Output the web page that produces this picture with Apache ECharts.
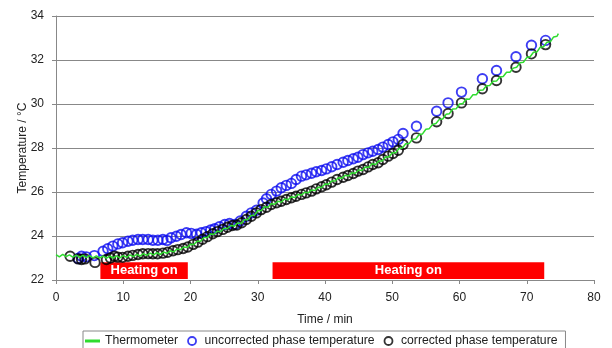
<!DOCTYPE html>
<html>
<head>
<meta charset="utf-8">
<script src="https://cdn.jsdelivr.net/npm/echarts@6/dist/echarts.min.js"></script>
<style>html,body{margin:0;padding:0;background:#fff;}#chart{width:612px;height:348px;}</style>
</head>
<body>
<div id="chart"></div>
<script>
// Thermometer reading: [time (min), temperature (°C)]
var thermometer = [
[0,23.15],[0.5,23.05],[1,23.16],[1.5,23.06],[2,23.14],[2.5,23.04],[3,23.13],[3.5,23.03],[4,23.12],[4.5,23.02],
[5,23.11],[5.5,23.01],[6,23.10],[6.5,23.00],[7,23.09],[7.5,22.99],[8,23.09],[8.5,23.00],[9,23.10],[9.5,23.01],
[10,23.11],[10.5,23.03],[11,23.14],[11.5,23.06],[12,23.17],[12.5,23.09],[13,23.20],[13.5,23.12],[14,23.22],[14.5,23.14],
[15,23.24],[15.5,23.16],[16,23.27],[16.5,23.21],[17,23.33],[17.5,23.28],[18,23.41],[18.5,23.38],[19,23.50],[19.5,23.48],
[20,23.62],[20.5,23.61],[21,23.76],[21.5,23.76],[22,23.93],[22.5,23.93],[23,24.09],[23.5,24.08],[24,24.22],[24.5,24.21],
[25,24.35],[25.5,24.34],[26,24.48],[26.5,24.45],[27,24.59],[27.5,24.57],[28,24.74],[28.5,24.74],[29,24.93],[29.5,24.94],
[30,25.15],[30.5,25.15],[31,25.33],[31.5,25.31],[32,25.47],[32.5,25.44],[33,25.58],[33.5,25.54],[34,25.68],[34.5,25.65],
[35,25.78],[35.5,25.75],[36,25.89],[36.5,25.86],[37,25.99],[37.5,25.96],[38,26.09],[38.5,26.07],[39,26.22],[39.5,26.20],
[40,26.36],[40.5,26.35],[41,26.50],[41.5,26.50],[42,26.65],[42.5,26.62],[43,26.76],[43.5,26.73],[44,26.87],[44.5,26.85],
[45,27.00],[45.5,26.98],[46,27.13],[46.5,27.12],[47,27.28],[47.5,27.25],[48,27.41],[48.5,27.41],[49,27.59],[49.5,27.59],
[50,27.78],[50.5,27.78],[51,27.98],[51.5,28.00],[52,28.19],[52.5,28.20],[53,28.40],[53.5,28.41],[54,28.61],[54.5,28.64],
[55,28.85],[55.5,28.88],[56,29.07],[56.5,29.11],[57,29.30],[57.5,29.32],[58,29.53],[58.5,29.56],[59,29.77],[59.5,29.78],
[60,30.00],[60.5,30.02],[61,30.23],[61.5,30.22],[62,30.42],[62.5,30.42],[63,30.63],[63.5,30.64],[64,30.83],[64.5,30.84],
[65,31.03],[65.5,31.04],[66,31.23],[66.5,31.25],[67,31.44],[67.5,31.44],[68,31.63],[68.5,31.67],[69,31.88],[69.5,31.90],
[70,32.11],[70.5,32.15],[71,32.35],[71.5,32.36],[72,32.58],[72.5,32.60],[73,32.81],[73.5,32.83],[74,33.05],[74.5,33.08],
[74.7,33.20]
];

// Uncorrected phase temperature
var uncorrected = [
[3.3,22.98],[3.8,23.08],[4.5,23.05],[5.7,23.11],[7.0,23.31],[7.7,23.42],[8.45,23.54],[9.2,23.64],[9.9,23.69],[10.7,23.76],
[11.4,23.81],[12.2,23.84],[12.9,23.84],[13.7,23.84],[14.4,23.81],[15.15,23.81],[15.9,23.84],[16.5,23.80],[17.1,23.92],[17.9,23.99],
[18.6,24.07],[19.4,24.15],[20.1,24.12],[20.9,24.08],[21.6,24.15],[22.3,24.20],[23.0,24.27],[23.6,24.33],[24.3,24.42],[25.1,24.52],
[25.8,24.57],[26.6,24.52],[27.4,24.68],[28.3,24.90],[29.05,25.05],[29.8,25.17],[30.8,25.50],[31.3,25.69],[32.0,25.89],[32.8,26.04],
[33.5,26.19],[34.25,26.30],[35.0,26.39],[35.7,26.57],[36.5,26.72],[37.2,26.78],[38.0,26.85],[38.7,26.92],[39.5,26.98],[40.2,27.05],
[41.0,27.15],[41.8,27.25],[42.7,27.35],[43.4,27.43],[44.2,27.51],[44.9,27.58],[45.65,27.70],[46.4,27.78],[47.1,27.85],[47.9,27.93],
[48.6,28.04],[49.4,28.16],[50.1,28.28],[50.9,28.39],[51.6,28.66],[53.6,28.99],[56.6,29.67],[58.3,30.05],[60.3,30.54],[63.4,31.15],
[65.5,31.52],[68.4,32.15],[70.7,32.67],[72.8,32.89]
];

// Corrected phase temperature
var corrected = [
[2.1,23.08],[3.3,22.96],[3.8,22.93],[4.3,22.96],[5.8,22.80],[7.5,22.93],[8.1,23.00],[8.7,23.08],[9.2,23.04],[9.9,23.03],
[10.7,23.08],[11.4,23.12],[12.2,23.16],[12.9,23.19],[13.7,23.20],[14.4,23.19],[15.1,23.19],[15.9,23.22],[16.6,23.26],[17.4,23.33],
[18.1,23.38],[18.9,23.43],[19.6,23.50],[20.4,23.62],[21.1,23.72],[21.8,23.85],[22.5,23.97],[23.3,24.10],[24.0,24.20],[24.8,24.30],
[25.5,24.40],[26.2,24.48],[26.9,24.50],[27.6,24.60],[28.3,24.75],[29.05,24.90],[29.8,25.05],[30.5,25.20],[31.3,25.31],[32.0,25.43],
[32.8,25.51],[33.5,25.58],[34.25,25.66],[35.0,25.74],[35.7,25.81],[36.5,25.89],[37.2,25.96],[38.0,26.04],[38.7,26.14],[39.5,26.24],
[40.2,26.33],[41.0,26.45],[41.8,26.57],[42.7,26.67],[43.4,26.75],[44.2,26.84],[44.9,26.95],[45.65,27.02],[46.4,27.14],[47.1,27.25],
[47.9,27.33],[48.6,27.48],[49.4,27.63],[50.1,27.75],[50.9,27.90],[51.6,28.16],[53.6,28.46],[56.6,29.19],[58.3,29.57],[60.3,30.05],
[63.4,30.69],[65.5,31.07],[68.4,31.67],[70.7,32.28],[72.8,32.70]
];

// Heating periods (min)
var heatingStart = [6.6, 32.2];
var heatingEnd = [19.6, 72.6];
var heatingLabel = 'Heating on';

var seriesNames = ['Thermometer', 'uncorrected phase temperature', 'corrected phase temperature'];
var xTicks = {min: 0, max: 80, interval: 10};
var yTicks = {min: 22, max: 34, interval: 2};

var FONT = 'Liberation Sans';
var GREEN = '#2fdc2f';
var BLUE = '#0c0cf0';
var areas = [];
for (var i = 0; i < heatingStart.length; i++) {
  areas.push([{name: heatingLabel, xAxis: heatingStart[i], yAxis: 22.05}, {xAxis: heatingEnd[i], yAxis: 22.81}]);
}

var chart = echarts.init(document.getElementById('chart'), null, {renderer: 'canvas'});
chart.setOption({
  animation: false,
  textStyle: {fontFamily: FONT},
  grid: {left: 56, right: 18, top: 16, bottom: 68, containLabel: false},
  xAxis: {
    type: 'value', min: xTicks.min, max: xTicks.max, interval: xTicks.interval,
    name: 'Time / min', nameLocation: 'middle', nameGap: 34, nameMoveOverlap: false,
    nameTextStyle: {color: '#222', fontSize: 12, fontFamily: FONT},
    axisLine: {show: true, lineStyle: {color: '#888', width: 1}},
    axisTick: {show: true, length: 4, lineStyle: {color: '#888'}},
    axisLabel: {color: '#222', fontSize: 12, margin: 12, fontFamily: FONT},
    splitLine: {show: false}
  },
  yAxis: {
    type: 'value', min: yTicks.min, max: yTicks.max, interval: yTicks.interval,
    name: 'Temperature / °C', nameLocation: 'middle', nameGap: 27, nameMoveOverlap: false,
    nameTextStyle: {color: '#222', fontSize: 12, fontFamily: FONT},
    axisLine: {show: true, lineStyle: {color: '#888', width: 1}},
    axisTick: {show: true, length: 4, lineStyle: {color: '#888'}},
    axisLabel: {color: '#222', fontSize: 12, margin: 12, fontFamily: FONT},
    splitLine: {show: true, lineStyle: {color: '#888', width: 1}}
  },
  legend: {
    left: 83, top: 331,
    orient: 'horizontal',
    padding: [4, 8, 12, 2],
    borderColor: '#888', borderWidth: 1,
    itemWidth: 15, itemHeight: 8, itemGap: 9,
    textStyle: {color: '#222', fontSize: 12.2, fontFamily: FONT},
    data: [
      {name: seriesNames[0], icon: 'path://M0,0H15V3H0Z', itemStyle: {color: GREEN, borderWidth: 0}},
      {name: seriesNames[1], icon: 'circle', itemStyle: {color: 'rgba(0,0,0,0)', borderColor: BLUE, borderWidth: 1.8}},
      {name: seriesNames[2], icon: 'circle', itemStyle: {color: 'rgba(0,0,0,0)', borderColor: '#000', borderWidth: 1.8}}
    ]
  },
  series: [
    {
      name: seriesNames[0], type: 'line', data: thermometer,
      symbol: 'none', showSymbol: false,
      lineStyle: {color: GREEN, width: 1.5},
      itemStyle: {color: GREEN},
      z: 3,
      markArea: {
        silent: true,
        itemStyle: {color: '#ff0000', opacity: 1},
        label: {show: true, position: 'inside', color: '#fff', fontWeight: 'bold', fontSize: 13, fontFamily: FONT},
        data: areas
      }
    },
    {
      name: seriesNames[1], type: 'scatter', data: uncorrected,
      symbol: 'circle', symbolSize: 9.5,
      itemStyle: {color: 'rgba(0,0,0,0)', borderColor: BLUE, borderWidth: 1.9},
      z: 2
    },
    {
      name: seriesNames[2], type: 'scatter', data: corrected,
      symbol: 'circle', symbolSize: 9.5,
      itemStyle: {color: 'rgba(0,0,0,0)', borderColor: '#000', borderWidth: 1.9},
      z: 2
    }
  ]
});
</script>
</body>
</html>
